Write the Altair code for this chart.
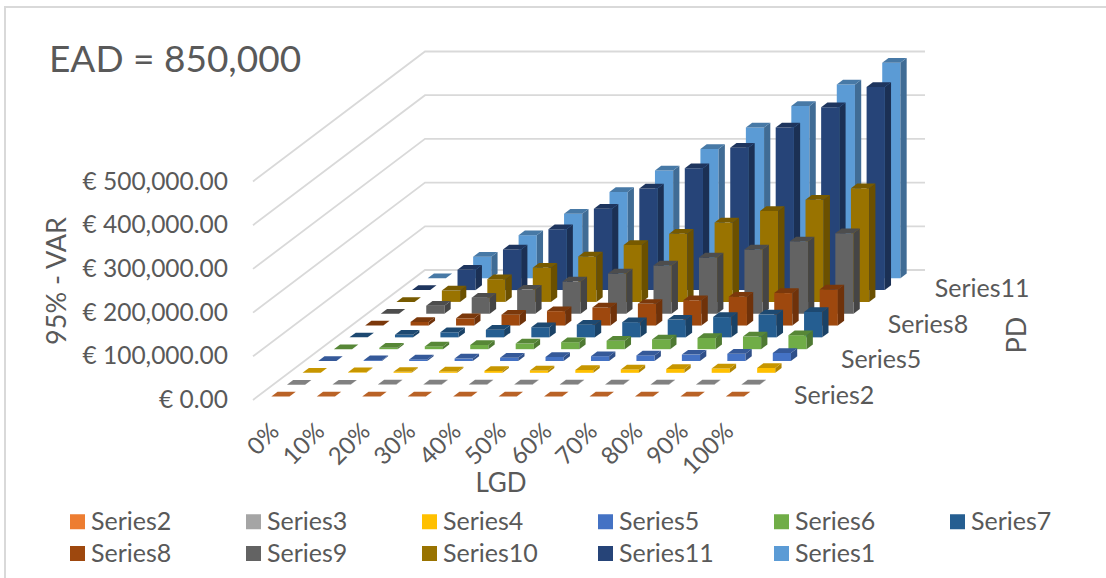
import altair as alt

# LGD columns and PD rows, front row first
lgd_labels = ["0%", "10%", "20%", "30%", "40%", "50%", "60%", "70%", "80%", "90%", "100%"]
row_names = ["Series2", "Series3", "Series4", "Series5", "Series6", "Series7",
             "Series8", "Series9", "Series10", "Series11", "Series1"]
legend_names = row_names
pd_ticks = {"Series2": 0, "Series5": 3, "Series8": 6, "Series11": 9}
var_ticks = [0, 100000, 200000, 300000, 400000, 500000]
var_tick_labels = ["€ 0.00", "€ 100,000.00", "€ 200,000.00", "€ 300,000.00", "€ 400,000.00", "€ 500,000.00"]

# 95% VaR in euro per series, LGD 0% to 100%
series2 = [0, 0, 0, 0, 0, 0, 0, 0, 0, 0, 0]
series3 = [0, 50, 100, 150, 200, 250, 300, 350, 400, 450, 500]
series4 = [0, 1100, 2200, 3300, 4400, 5500, 6600, 7700, 8800, 9900, 11000]
series5 = [0, 1900, 3700, 5500, 7300, 9200, 11000, 12800, 14600, 16500, 18300]
series6 = [0, 3200, 6400, 9600, 12800, 16000, 19200, 22400, 25600, 28800, 32000]
series7 = [0, 5800, 11600, 17400, 23200, 29000, 34800, 40600, 46400, 52200, 58000]
series8 = [0, 8300, 16500, 24800, 33000, 41300, 49600, 57800, 66100, 74300, 82600]
series9 = [0, 18400, 36800, 55200, 73600, 92000, 110400, 128800, 147200, 165600, 184000]
series10 = [0, 26000, 52000, 78000, 104000, 130000, 156000, 182000, 208000, 234000, 260000]
series11 = [0, 46500, 93000, 139500, 186000, 232500, 279000, 325500, 372000, 418500, 465000]
series1 = [0, 49300, 98600, 147900, 197200, 246500, 295800, 345100, 394400, 443700, 493000]
rows = [series2, series3, series4, series5, series6, series7, series8, series9, series10, series11, series1]

front_colors = ["#ed7d31", "#a5a5a5", "#ffc000", "#4472c4", "#70ad47", "#255e91",
                "#9e480e", "#636363", "#997300", "#264478", "#5b9bd5"]
GRID = "#d9d9d9"
TEXT = "#595959"
FONT = "Lato"

# Oblique projection of the 3D plot box onto the page
ORIGIN_X, ORIGIN_Y = 253.0, 400.0
COL_DX = 500.0 / 11
ROW_DX, ROW_DY = 172.0 / 11, 130.0 / 11
PX_PER_EURO = 43.7 / 100000
BAR_SHARE = 0.4


def project(col, row, value=0.0):
    return [ORIGIN_X + COL_DX * col + ROW_DX * row,
            ORIGIN_Y - ROW_DY * row - value * PX_PER_EURO]


def shade(color, factor):
    r, g, b = (int(color[i:i + 2], 16) for i in (1, 3, 5))
    return "#%02x%02x%02x" % (round(r * factor), round(g * factor), round(b * factor))


def polygon(points, fill):
    return {"type": "Feature", "properties": {"fill": fill},
            "geometry": {"type": "Polygon", "coordinates": [points + [points[0]]]}}


def line(points):
    return {"type": "Feature", "properties": {},
            "geometry": {"type": "LineString", "coordinates": points}}


def geo(features):
    return alt.InlineData(values={"type": "FeatureCollection", "features": features},
                          format=alt.DataFormat(property="features", type="json"))


# Bars painted from the back row forward: front, side and top faces
faces = []
half = BAR_SHARE / 2
for r in range(len(rows) - 1, -1, -1):
    color = front_colors[r]
    top_fill, side_fill = shade(color, 0.78), shade(color, 0.70)
    for c, value in enumerate(rows[r]):
        x0, x1 = c + 0.5 - half, c + 0.5 + half
        y0, y1 = r + 0.5 - half, r + 0.5 + half
        if value > 0:
            faces.append(polygon([project(x0, y0), project(x1, y0), project(x1, y0, value), project(x0, y0, value)], color))
            faces.append(polygon([project(x1, y0), project(x1, y1), project(x1, y1, value), project(x1, y0, value)], side_fill))
        faces.append(polygon([project(x0, y0, value), project(x1, y0, value), project(x1, y1, value), project(x0, y1, value)], top_fill))

# Gridlines run up the left wall and along the back wall
n_cols, n_rows = len(lgd_labels), len(rows)
grid_lines = [line([project(0, 0, v), project(0, n_rows, v), project(n_cols, n_rows, v)]) for v in var_ticks]

frame = [line([[5, 578], [5, 7], [1106, 7]])]

identity = dict(type="identity", scale=1, translate=[0, 0])

frame_layer = alt.Chart(geo(frame)).mark_geoshape(filled=False, stroke=GRID, strokeWidth=2).project(**identity)
grid_layer = alt.Chart(geo(grid_lines)).mark_geoshape(filled=False, stroke=GRID, strokeWidth=1.8).project(**identity)
bar_layer = alt.Chart(geo(faces)).mark_geoshape(strokeWidth=0).encode(
    fill=alt.Fill("properties.fill:N", scale=None)
).project(**identity)


def text_layer(records, **mark):
    return alt.Chart(alt.Data(values=records)).mark_text(font=FONT, color=TEXT, **mark).encode(
        x=alt.X("x:Q", scale=None, axis=None),
        y=alt.Y("y:Q", scale=None, axis=None),
        text="t:N",
    )


var_labels = text_layer(
    [{"t": t, "x": project(0, 0, v)[0] - 25, "y": project(0, 0, v)[1] + 1} for t, v in zip(var_tick_labels, var_ticks)],
    align="right", baseline="middle", fontSize=24.5)
lgd_tick_labels = text_layer(
    [{"t": t, "x": project(c + 0.5, 0)[0], "y": project(c + 0.5, 0)[1] + 28} for c, t in enumerate(lgd_labels)],
    align="right", baseline="middle", fontSize=24, angle=315)
pd_labels = text_layer(
    [{"t": t, "x": project(n_cols, r)[0] + 41, "y": project(n_cols, r)[1] - 4.5} for t, r in pd_ticks.items()],
    align="left", baseline="middle", fontSize=25)
title = text_layer([{"t": "EAD = 850,000", "x": 49, "y": 61}], align="left", baseline="middle", fontSize=37)
x_title = text_layer([{"t": "LGD", "x": 501, "y": 484}], align="center", baseline="middle", fontSize=26)
y_title = text_layer([{"t": "95% - VAR", "x": 58, "y": 281}], align="center", baseline="middle", fontSize=27, angle=270)
z_title = text_layer([{"t": "PD", "x": 1018, "y": 335}], align="center", baseline="middle", fontSize=27, angle=270)

legend_layer = alt.Chart(alt.Data(values=[{"series": s} for s in legend_names])).mark_point(
    filled=True, opacity=0, shape="square"
).encode(
    x=alt.value(0),
    y=alt.value(0),
    fill=alt.Fill(
        "series:N",
        scale=alt.Scale(domain=legend_names, range=front_colors),
        legend=alt.Legend(
            title=None, orient="none", legendX=65, legendY=509, columns=6, gridAlign="all",
            direction="horizontal",
            symbolType="square", symbolSize=225, symbolOpacity=1, symbolStrokeWidth=0,
            labelFont=FONT, labelFontSize=25, labelColor=TEXT, labelOffset=1, labelLimit=200,
            columnPadding=55, rowPadding=6, symbolOffset=0,
        ),
    ),
)

chart = alt.layer(
    frame_layer, grid_layer, bar_layer, var_labels, lgd_tick_labels, pd_labels,
    title, x_title, y_title, z_title, legend_layer,
).properties(
    width=1106, height=578, padding=0, autosize=alt.AutoSizeParams(type="none"), background="white",
).configure_view(stroke=None)

chart.save("out.html", embed_options={"renderer": "svg", "actions": False})
